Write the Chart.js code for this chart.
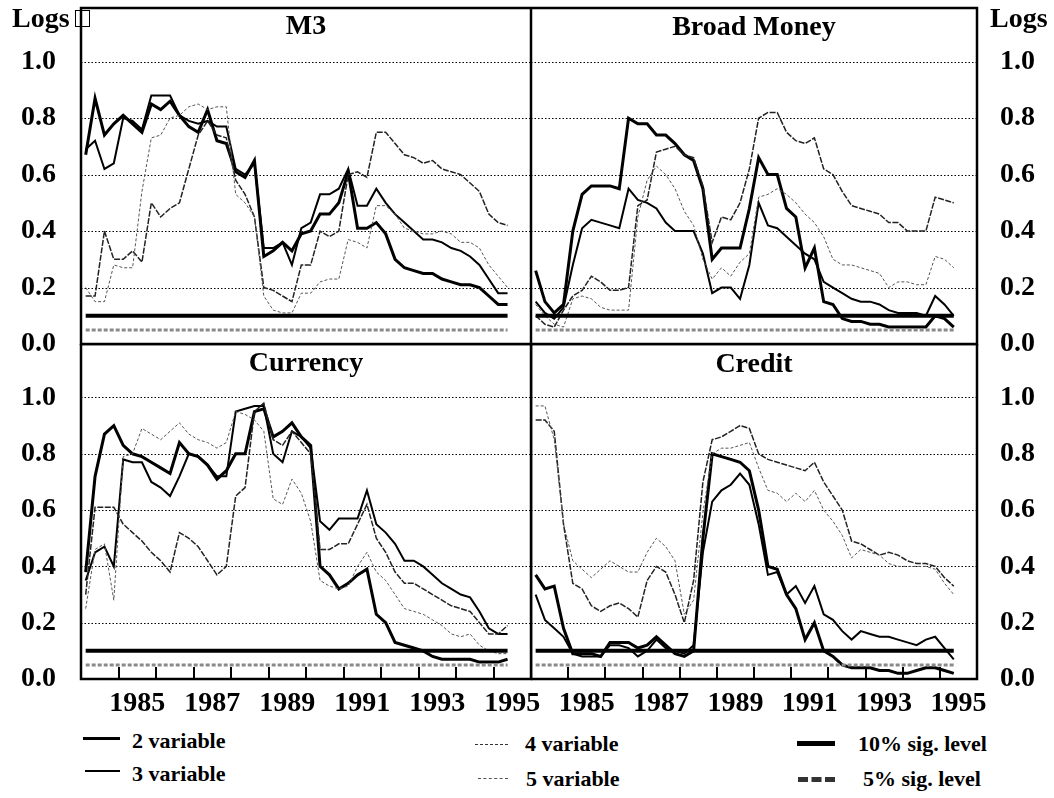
<!DOCTYPE html>
<html>
<head>
<meta charset="utf-8">
<title>Money and credit: significance levels</title>
<script src="https://cdn.jsdelivr.net/npm/chart.js@4.4.1/dist/chart.umd.min.js"></script>
<style>
  html, body { margin: 0; padding: 0; background: #fff; }
  #page { position: relative; width: 1054px; height: 798px; overflow: hidden;
          font-family: "Liberation Serif", "Times New Roman", serif; font-weight: bold; color: #000; }
  #page canvas { position: absolute; }
  .lbl { position: absolute; white-space: nowrap; font-size: 28px; line-height: 28px; }
  .ttl { position: absolute; text-align: center; font-size: 28px; line-height: 28px; }
  .leg { position: absolute; white-space: nowrap; font-size: 22px; line-height: 22px; }
  .key { position: absolute; height: 0; }
</style>
</head>
<body>
<div id="page">
  <canvas id="cTL" width="531" height="362" style="left:0;top:0"></canvas>
  <canvas id="cTR" width="523" height="362" style="left:531px;top:0"></canvas>
  <canvas id="cBL" width="551" height="376" style="left:0;top:344px"></canvas>
  <canvas id="cBR" width="523" height="376" style="left:531px;top:344px"></canvas>

  <div class="lbl" style="left:12px;top:4px">Logs</div>
  <div style="position:absolute;left:75px;top:10px;width:13px;height:15px;border:1.5px solid #000;"></div>
  <div class="lbl" style="left:990px;top:4px">Logs</div>

  <div class="ttl" style="left:81px;width:450px;top:11px">M3</div>
  <div class="ttl" style="left:531px;width:446px;top:12px">Broad Money</div>
  <div class="ttl" style="left:81px;width:450px;top:348px">Currency</div>
  <div class="ttl" style="left:531px;width:446px;top:349px">Credit</div>

  <div class="key" style="left:83px;top:737px;width:37px;border-top:3px solid #000"></div>
  <div class="leg" style="left:132px;top:730px">2 variable</div>
  <div class="key" style="left:85px;top:770px;width:35px;border-top:2px solid #000"></div>
  <div class="leg" style="left:132px;top:763px">3 variable</div>

  <div class="key" style="left:475px;top:744px;width:33px;border-top:1.5px dashed #333"></div>
  <div class="leg" style="left:525px;top:733px">4 variable</div>
  <div class="key" style="left:478px;top:778px;width:30px;border-top:1px dashed #555"></div>
  <div class="leg" style="left:526px;top:768px">5 variable</div>

  <div class="key" style="left:797px;top:741px;width:38px;border-top:5px solid #000"></div>
  <div class="leg" style="left:858px;top:733px">10% sig. level</div>
  <div class="key" style="left:798px;top:777px;width:37px;border-top:5px dashed #333"></div>
  <div class="leg" style="left:863px;top:768px">5% sig. level</div>
</div>

<script>
// quarterly observations
const quarters = [
  '1984Q1','1984Q2','1984Q3','1984Q4','1985Q1','1985Q2','1985Q3','1985Q4',
  '1986Q1','1986Q2','1986Q3','1986Q4','1987Q1','1987Q2','1987Q3','1987Q4',
  '1988Q1','1988Q2','1988Q3','1988Q4','1989Q1','1989Q2','1989Q3','1989Q4',
  '1990Q1','1990Q2','1990Q3','1990Q4','1991Q1','1991Q2','1991Q3','1991Q4',
  '1992Q1','1992Q2','1992Q3','1992Q4','1993Q1','1993Q2','1993Q3','1993Q4',
  '1994Q1','1994Q2','1994Q3','1994Q4','1995Q1','1995Q2'
];
const yearLabels = ['1985', '1987', '1989', '1991', '1993', '1995'];
const yearTicks = [1985, 1986, 1987, 1988, 1989, 1990, 1991, 1992, 1993, 1994, 1995];
const yTickValues = [0, 0.2, 0.4, 0.6, 0.8, 1.0];

const sig10Level = 0.10;
const sig5Level = 0.05;

// M3
const m3Var2 = [0.67,0.87,0.74,0.78,0.81,0.78,0.75,0.85,0.83,0.86,0.81,0.77,0.75,0.83,0.72,0.71,0.61,0.59,0.65,0.31,
  0.33,0.36,0.33,0.39,0.40,0.46,0.46,0.50,0.61,0.41,0.41,0.43,0.39,0.30,0.27,0.26,0.25,0.25,0.23,0.22,
  0.21,0.21,0.20,0.17,0.14,0.14];
const m3Var3 = [0.69,0.72,0.62,0.64,0.80,0.79,0.76,0.88,0.88,0.88,0.81,0.79,0.78,0.79,0.77,0.77,0.62,0.60,0.64,0.34,
  0.34,0.36,0.28,0.41,0.43,0.53,0.53,0.55,0.62,0.49,0.49,0.55,0.50,0.46,0.43,0.40,0.37,0.37,0.36,0.34,
  0.33,0.31,0.28,0.23,0.18,0.18];
const m3Var4 = [0.17,0.17,0.40,0.30,0.30,0.33,0.29,0.50,0.45,0.48,0.50,0.62,0.74,0.79,0.74,0.73,0.58,0.53,0.45,0.20,
  0.19,0.17,0.15,0.28,0.28,0.40,0.38,0.40,0.60,0.61,0.59,0.75,0.75,0.71,0.67,0.66,0.64,0.65,0.62,0.61,
  0.60,0.57,0.54,0.46,0.43,0.42];
const m3Var5 = [0.20,0.15,0.15,0.28,0.27,0.27,0.54,0.73,0.74,0.80,0.81,0.84,0.85,0.83,0.84,0.84,0.53,0.50,0.45,0.17,
  0.12,0.11,0.11,0.18,0.18,0.22,0.23,0.23,0.37,0.36,0.34,0.49,0.49,0.46,0.41,0.40,0.39,0.39,0.40,0.39,
  0.36,0.36,0.34,0.28,0.24,0.20];

// Broad Money
const bmVar2 = [0.26,0.15,0.11,0.14,0.40,0.53,0.56,0.56,0.56,0.55,0.80,0.78,0.78,0.74,0.74,0.71,0.67,0.65,0.55,0.30,
  0.34,0.34,0.34,0.48,0.66,0.60,0.60,0.48,0.45,0.27,0.34,0.15,0.14,0.09,0.08,0.08,0.07,0.07,0.06,0.06,
  0.06,0.06,0.06,0.10,0.09,0.06];
const bmVar3 = [0.15,0.11,0.09,0.13,0.28,0.41,0.44,0.43,0.42,0.41,0.55,0.51,0.50,0.48,0.43,0.40,0.40,0.40,0.32,0.18,
  0.20,0.20,0.16,0.28,0.50,0.42,0.41,0.38,0.35,0.32,0.30,0.22,0.20,0.18,0.16,0.15,0.15,0.14,0.12,0.11,
  0.11,0.11,0.10,0.17,0.14,0.10];
const bmVar4 = [0.10,0.07,0.06,0.12,0.17,0.19,0.24,0.22,0.19,0.19,0.20,0.49,0.51,0.68,0.69,0.70,0.67,0.66,0.56,0.36,
  0.45,0.44,0.50,0.62,0.80,0.82,0.82,0.75,0.72,0.71,0.73,0.62,0.60,0.54,0.49,0.48,0.47,0.46,0.43,0.43,
  0.40,0.40,0.40,0.52,0.51,0.50];
const bmVar5 = [0.14,0.10,0.07,0.06,0.16,0.17,0.16,0.13,0.12,0.12,0.12,0.45,0.58,0.63,0.60,0.55,0.47,0.42,0.30,0.23,
  0.27,0.24,0.29,0.32,0.52,0.53,0.55,0.53,0.50,0.46,0.43,0.38,0.30,0.28,0.28,0.27,0.26,0.25,0.20,0.22,
  0.22,0.21,0.21,0.31,0.30,0.27];

// Currency
const curVar2 = [0.38,0.72,0.87,0.90,0.83,0.80,0.79,0.77,0.75,0.73,0.84,0.80,0.79,0.76,0.71,0.74,0.80,0.80,0.95,0.96,
  0.86,0.88,0.91,0.86,0.83,0.40,0.37,0.32,0.34,0.37,0.39,0.23,0.20,0.13,0.12,0.11,0.10,0.08,0.07,0.07,
  0.07,0.07,0.06,0.06,0.06,0.07];
const curVar3 = [0.35,0.45,0.47,0.40,0.78,0.77,0.77,0.70,0.68,0.65,0.72,0.80,0.79,0.76,0.72,0.72,0.95,0.96,0.97,0.97,
  0.80,0.77,0.88,0.86,0.82,0.56,0.53,0.57,0.57,0.57,0.67,0.55,0.52,0.48,0.42,0.42,0.40,0.37,0.34,0.32,
  0.30,0.29,0.24,0.18,0.16,0.16];
const curVar4 = [0.30,0.61,0.61,0.61,0.55,0.52,0.49,0.45,0.42,0.38,0.52,0.50,0.47,0.42,0.37,0.40,0.65,0.68,0.95,0.98,
  0.85,0.83,0.88,0.84,0.80,0.46,0.46,0.48,0.48,0.55,0.62,0.50,0.45,0.38,0.34,0.34,0.32,0.30,0.28,0.26,
  0.25,0.24,0.20,0.16,0.16,0.19];
const curVar5 = [0.25,0.46,0.48,0.28,0.79,0.80,0.89,0.87,0.85,0.88,0.91,0.87,0.85,0.84,0.82,0.84,0.95,0.94,0.92,0.88,
  0.64,0.62,0.71,0.66,0.56,0.35,0.33,0.32,0.33,0.40,0.45,0.38,0.35,0.30,0.25,0.24,0.23,0.21,0.19,0.16,
  0.15,0.16,0.12,0.10,0.09,0.09];

// Credit
const crVar2 = [0.37,0.32,0.33,0.18,0.09,0.09,0.09,0.08,0.13,0.13,0.13,0.11,0.12,0.15,0.12,0.09,0.08,0.10,0.50,0.80,
  0.79,0.78,0.77,0.74,0.60,0.40,0.39,0.30,0.25,0.14,0.20,0.10,0.08,0.05,0.04,0.04,0.04,0.03,0.03,0.02,
  0.02,0.03,0.04,0.04,0.03,0.02];
const crVar3 = [0.30,0.21,0.18,0.15,0.09,0.08,0.08,0.08,0.12,0.12,0.11,0.08,0.10,0.14,0.11,0.10,0.09,0.12,0.45,0.63,
  0.67,0.69,0.73,0.69,0.55,0.37,0.38,0.30,0.33,0.27,0.33,0.23,0.21,0.17,0.14,0.17,0.16,0.15,0.15,0.14,
  0.13,0.12,0.14,0.15,0.11,0.07];
const crVar4 = [0.92,0.92,0.88,0.55,0.34,0.32,0.26,0.24,0.26,0.27,0.25,0.22,0.35,0.40,0.38,0.30,0.20,0.35,0.70,0.85,
  0.86,0.88,0.90,0.89,0.80,0.78,0.77,0.76,0.75,0.74,0.77,0.70,0.65,0.60,0.49,0.48,0.46,0.44,0.45,0.44,
  0.42,0.41,0.41,0.40,0.36,0.33];
const crVar5 = [0.97,0.97,0.85,0.55,0.42,0.39,0.36,0.39,0.42,0.40,0.38,0.38,0.45,0.50,0.47,0.42,0.23,0.28,0.59,0.80,
  0.82,0.82,0.83,0.84,0.75,0.67,0.66,0.63,0.66,0.63,0.67,0.60,0.56,0.51,0.43,0.46,0.45,0.44,0.41,0.40,
  0.40,0.40,0.40,0.39,0.34,0.30];

Chart.defaults.font.family = '"Liberation Serif", "Times New Roman", serif';
Chart.defaults.color = '#000';

const tickFont = { size: 28, weight: 'bold' };

const var2Style = { borderColor: '#000', borderWidth: 3 };
const var3Style = { borderColor: '#000', borderWidth: 2 };
const var4Style = { borderColor: '#222', borderWidth: 1.5, borderDash: [6, 1.5] };
const var5Style = { borderColor: '#555', borderWidth: 1, borderDash: [3, 2] };
const sig10Style = { borderColor: '#000', borderWidth: 4 };
const sig5Style = { borderColor: '#8a8a8a', borderWidth: 3, borderDash: [4, 2] };

function quarterToYear(q) {
  const year = Number(q.slice(0, 4));
  const qtr = Number(q.slice(5));
  return year + (qtr - 0.5) / 4;
}

function series(values) {
  return quarters.map((q, i) => ({ x: quarterToYear(q), y: values[i] }));
}

function level(v) {
  return quarters.map(q => ({ x: quarterToYear(q), y: v }));
}

// dotted grid, frame and inward year ticks
const panelFrame = {
  id: 'panelFrame',
  beforeDatasetsDraw(chart) {
    const { ctx, chartArea: a, scales: { y } } = chart;
    ctx.save();
    ctx.strokeStyle = '#000';
    ctx.lineWidth = 1;
    ctx.setLineDash([1.5, 2]);
    yTickValues.forEach(v => {
      if (v === 0) return;
      const py = Math.round(y.getPixelForValue(v)) + 0.5;
      ctx.beginPath();
      ctx.moveTo(a.left, py);
      ctx.lineTo(a.right, py);
      ctx.stroke();
    });
    ctx.restore();
  },
  afterDatasetsDraw(chart, args, opts) {
    const { ctx, chartArea: a, scales: { x } } = chart;
    ctx.save();
    ctx.strokeStyle = '#000';
    ctx.lineWidth = 2.5;
    ctx.strokeRect(a.left, a.top, a.right - a.left, a.bottom - a.top);
    if (opts.yearTicks) {
      ctx.lineWidth = 2;
      yearTicks.forEach(yr => {
        const px = Math.round(x.getPixelForValue(yr));
        ctx.beginPath();
        ctx.moveTo(px, a.bottom);
        ctx.lineTo(px, a.bottom - 12);
        ctx.stroke();
      });
    }
    ctx.restore();
  }
};

function makePanel(id, sets, side, bottom, padRight) {
  const datasets = [
    { label: '5% sig. level', data: level(sig5Level), ...sig5Style },
    { label: '10% sig. level', data: level(sig10Level), ...sig10Style },
    { label: '5 variable', data: series(sets[3]), ...var5Style },
    { label: '4 variable', data: series(sets[2]), ...var4Style },
    { label: '3 variable', data: series(sets[1]), ...var3Style },
    { label: '2 variable', data: series(sets[0]), ...var2Style }
  ];

  const xScale = {
    type: 'linear',
    min: 1984,
    max: 1996,
    display: bottom,
    grid: { display: false },
    border: { display: false },
    afterBuildTicks: s => { s.ticks = yearLabels.map(l => ({ value: Number(l) + 0.5 })); },
    ticks: {
      autoSkip: false, maxRotation: 0, minRotation: 0, padding: 0,
      color: '#000', font: tickFont,
      callback: v => String(Math.floor(v))
    }
  };
  if (bottom) {
    xScale.afterFit = s => { s.height = 41; s.paddingLeft = 0; s.paddingRight = 0; };
  }

  return new Chart(document.getElementById(id), {
    type: 'line',
    data: { datasets },
    options: {
      responsive: false,
      animation: false,
      layout: {
        autoPadding: false,
        padding: { top: bottom ? 0 : 8, bottom: bottom ? 0 : 18, left: 0, right: padRight || 0 }
      },
      plugins: {
        legend: { display: false },
        tooltip: { enabled: false },
        panelFrame: { yearTicks: bottom }
      },
      elements: { point: { radius: 0 }, line: { tension: 0 } },
      scales: {
        x: xScale,
        y: {
          position: side,
          min: 0,
          max: 1.19,
          grid: { display: false },
          border: { display: false },
          afterBuildTicks: s => { s.ticks = yTickValues.map(v => ({ value: v })); },
          afterFit: s => {
            s.width = side === 'left' ? 81 : 77;
            s.paddingTop = 0;
            s.paddingBottom = 0;
          },
          ticks: {
            autoSkip: false,
            padding: side === 'left' ? 17 : 15,
            color: '#000',
            font: tickFont,
            callback: v => v.toFixed(1)
          }
        }
      }
    },
    plugins: [panelFrame]
  });
}

makePanel('cTL', [m3Var2, m3Var3, m3Var4, m3Var5], 'left', false, 0);
makePanel('cTR', [bmVar2, bmVar3, bmVar4, bmVar5], 'right', false, 0);
makePanel('cBL', [curVar2, curVar3, curVar4, curVar5], 'left', true, 20);
makePanel('cBR', [crVar2, crVar3, crVar4, crVar5], 'right', true, 0);
</script>
</body>
</html>
